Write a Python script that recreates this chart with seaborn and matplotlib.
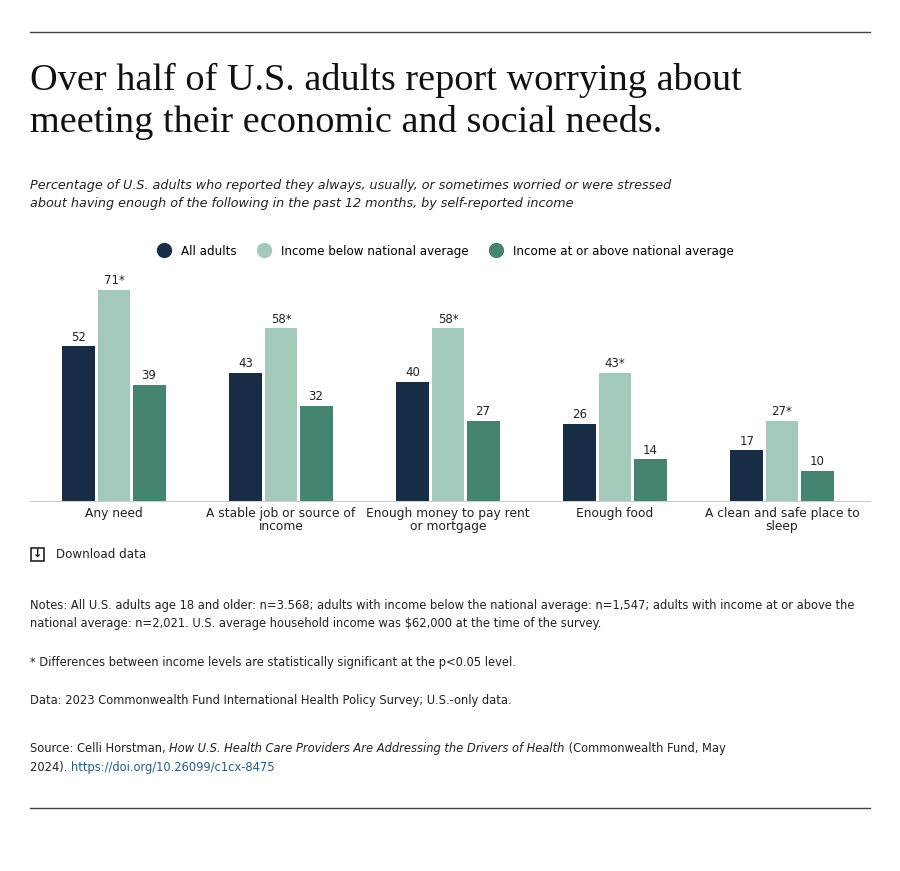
import matplotlib
matplotlib.use("Agg")
import matplotlib.pyplot as plt
import seaborn as sns
import pandas as pd
from matplotlib.lines import Line2D
from matplotlib.patches import FancyBboxPatch

categories = ["Any need", "A stable job or source of\nincome", "Enough money to pay rent\nor mortgage", "Enough food", "A clean and safe place to\nsleep"]
series = ["All adults", "Income below national average", "Income at or above national average"]
all_adults = [52, 43, 40, 26, 17]
below_avg = [71, 58, 58, 43, 27]
above_avg = [39, 32, 27, 14, 10]
labels_below = ["71*", "58*", "58*", "43*", "27*"]
colors = ["#172c45", "#a3c9bb", "#458470"]

rows = []
for vals, s in zip([all_adults, below_avg, above_avg], series):
    for c, v in zip(categories, vals):
        rows.append({"cat": c, "series": s, "val": v})
df = pd.DataFrame(rows)

fig = plt.figure(figsize=(9, 8.71), dpi=100)
ax = fig.add_axes([30/900, 1-501/871, 840/900, 232/871])
sns.barplot(data=df, x="cat", y="val", hue="series", palette=colors, width=0.63,
            gap=0.06, ax=ax, legend=False, saturation=1)
ax.set_ylim(0, 78)
ax.set_xlim(-(114-30)/167, (870-114)/167)
for i, cont in enumerate(ax.containers):
    labs = labels_below if i == 1 else [str(v) for v in [all_adults, below_avg, above_avg][i]]
    ax.bar_label(cont, labels=labs, padding=2, fontsize=8.5, color="#222222")
for s in ["top", "right", "left"]:
    ax.spines[s].set_visible(False)
ax.spines["bottom"].set_color("#cccccc")
ax.set_yticks([])
ax.set_xlabel(""); ax.set_ylabel("")
ax.tick_params(axis="x", length=0, labelsize=8.8, colors="#222222", pad=4)
for lab in ax.get_xticklabels():
    lab.set_linespacing(1.0)

handles = [Line2D([], [], marker="o", ls="", markersize=10, color=c) for c in colors]
fig.legend(handles, series, loc="center", bbox_to_anchor=(0.492, 1-251/871), ncol=3,
           frameon=False, fontsize=8.6, handletextpad=0.4, columnspacing=1.3)

fig.add_artist(Line2D([30/900, 870/900], [1-32/871]*2, color="#444444", lw=1))
fig.add_artist(Line2D([30/900, 870/900], [1-808/871]*2, color="#444444", lw=1))
fig.text(30/900, 1-80/871, "Over half of U.S. adults report worrying about", fontsize=27.5,
         family="Liberation Serif", va="center", color="#111111")
fig.text(30/900, 1-123/871, "meeting their economic and social needs.", fontsize=27.5,
         family="Liberation Serif", va="center", color="#111111")
fig.text(30/900, 1-185/871, "Percentage of U.S. adults who reported they always, usually, or sometimes worried or were stressed",
         fontsize=9.2, style="italic", va="center", color="#222222")
fig.text(30/900, 1-204/871, "about having enough of the following in the past 12 months, by self-reported income",
         fontsize=9.2, style="italic", va="center", color="#222222")

fig.add_artist(FancyBboxPatch((31/900, 1-561/871), 13/900, 13/871, boxstyle="square,pad=0",
                              fill=False, ec="#222222", lw=1.2, transform=fig.transFigure))
fig.text(37.5/900, 1-554/871, "↓", fontsize=8, ha="center", va="center", weight="bold")
fig.text(56/900, 1-554/871, "Download data", fontsize=8.6, va="center", color="#222222")

fs = 8.3
fig.text(30/900, 1-605/871, "Notes: All U.S. adults age 18 and older: n=3.568; adults with income below the national average: n=1,547; adults with income at or above the",
         fontsize=fs, va="center", color="#222222")
fig.text(30/900, 1-624/871, "national average: n=2,021. U.S. average household income was $62,000 at the time of the survey.",
         fontsize=fs, va="center", color="#222222")
fig.text(30/900, 1-662/871, "* Differences between income levels are statistically significant at the p<0.05 level.",
         fontsize=fs, va="center", color="#222222")
fig.text(30/900, 1-700/871, "Data: 2023 Commonwealth Fund International Health Policy Survey; U.S.-only data.",
         fontsize=fs, va="center", color="#222222")
t = fig.text(30/900, 1-748/871, "Source: Celli Horstman, ", fontsize=fs, va="center", color="#222222")
fig.canvas.draw()
r = fig.canvas.get_renderer()
bb = t.get_window_extent(r)
t2 = fig.text(bb.x1/900, 1-748/871, "How U.S. Health Care Providers Are Addressing the Drivers of Health",
              fontsize=fs, va="center", style="italic", color="#222222")
bb2 = t2.get_window_extent(r)
fig.text(bb2.x1/900, 1-748/871, " (Commonwealth Fund, May", fontsize=fs, va="center", color="#222222")
t3 = fig.text(30/900, 1-767/871, "2024). ", fontsize=fs, va="center", color="#222222")
bb3 = t3.get_window_extent(r)
fig.text(bb3.x1/900, 1-767/871, "https://doi.org/10.26099/c1cx-8475", fontsize=fs, va="center", color="#1f5f8b")

fig.savefig("out.png", dpi=100)
